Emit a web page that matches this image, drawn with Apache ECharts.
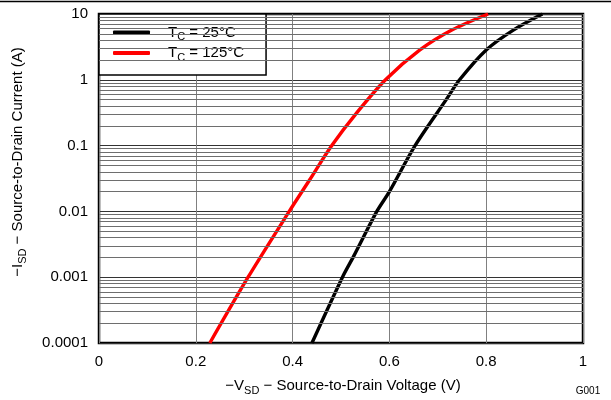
<!DOCTYPE html>
<html>
<head>
<meta charset="utf-8">
<script src="https://cdn.jsdelivr.net/npm/echarts@6/dist/echarts.min.js"></script>
<style>
  html, body { margin: 0; padding: 0; background: #fff; }
  #chart { width: 611px; height: 400px; }
</style>
</head>
<body>
<div id="chart"></div>
<script>
// diode curves, [-VSD (V), -ISD (A)]
const tc25 = [
  [0.44, 0.0001], [0.503, 0.001], [0.526, 0.00207], [0.574, 0.01],
  [0.6, 0.02], [0.653, 0.1], [0.717, 0.495], [0.745, 1],
  [0.8, 2.84], [0.856, 5.7], [0.916, 10],
];
const tc125 = [
  [0.229, 0.0001], [0.308, 0.001], [0.393, 0.01], [0.435, 0.03],
  [0.481, 0.1], [0.532, 0.311], [0.592, 1], [0.663, 2.84],
  [0.729, 5.7], [0.804, 10],
];
const seriesNames = ["25", "125"];
const yTickLabels = ["0.0001", "0.001", "0.01", "0.1", "1", "10"];

// minor log gridlines 2..9 per decade
const minorValues = [];
for (let e = -4; e < 1; e++) {
  for (let m = 2; m <= 9; m++) minorValues.push(Number((m * Math.pow(10, e)).toPrecision(3)));
}

const FONT = "'Liberation Sans', Arial, sans-serif";
const subRich = {
  t: { fontSize: 15, lineHeight: 20, fontFamily: FONT, color: "#000" },
  s: { fontSize: 11, lineHeight: 11, verticalAlign: "bottom", fontFamily: FONT, color: "#000" },
};

const chart = echarts.init(document.getElementById("chart"));

const option = {
  animation: false,
  backgroundColor: "#fff",
  grid: {
    left: 99,
    right: 28,
    top: 14,
    bottom: 57,
    show: true,
    borderColor: "#000",
    borderWidth: 2.5,
  },
  legend: {
    orient: "vertical",
    left: 99,
    top: 14,
    data: [
      { name: seriesNames[0], icon: "roundRect" },
      { name: seriesNames[1], icon: "roundRect" },
    ],
    itemWidth: 37,
    itemHeight: 4,
    itemGap: 3,
    padding: [11, 22, 12, 14],
    backgroundColor: "#fff",
    borderColor: "#000",
    borderWidth: 1.5,
    borderRadius: 0,
    formatter: function (name) {
      return "{p|T}{s|C}{t| = " + name + "°C}";
    },
    textStyle: {
      rich: {
        p: { fontSize: 15, lineHeight: 20, fontFamily: FONT, color: "#000", padding: [0, 0, 0, 13] },
        t: subRich.t,
        s: subRich.s,
      },
    },
  },
  xAxis: {
    type: "value",
    min: 0,
    max: 1,
    interval: 0.2,
    axisLine: { show: false },
    axisTick: { show: false },
    axisLabel: { color: "#000", fontSize: 15, fontFamily: FONT, margin: 11 },
    splitLine: { lineStyle: { color: "#808080", width: 1 } },
  },
  yAxis: {
    type: "log",
    logBase: 10,
    min: 0.0001,
    max: 10,
    axisLine: { show: false },
    axisTick: { show: false },
    axisLabel: {
      color: "#000",
      fontSize: 15,
      fontFamily: FONT,
      margin: 11,
      formatter: function (v) {
        return yTickLabels[Math.round(Math.log10(v)) + 4];
      },
    },
    splitLine: { lineStyle: { color: "#333", width: 1 } },
  },
  series: [
    {
      name: "minor",
      type: "line",
      data: [],
      silent: true,
      markLine: {
        silent: true,
        symbol: "none",
        precision: 10,
        label: { show: false },
        lineStyle: { color: "#6e6e6e", width: 1, type: "solid" },
        data: minorValues.map((v) => ({ yAxis: v })),
        animation: false,
      },
    },
    {
      name: seriesNames[0],
      type: "line",
      data: tc25,
      smooth: 0.3,
      showSymbol: false,
      color: "#000",
      lineStyle: { width: 3.4, color: "#000" },
    },
    {
      name: seriesNames[1],
      type: "line",
      data: tc125,
      smooth: 0.3,
      showSymbol: false,
      color: "#ff0000",
      lineStyle: { width: 3.4, color: "#ff0000" },
    },
  ],
  graphic: [
    {
      type: "line",
      shape: { x1: 0, y1: 1.5, x2: 611, y2: 1.5 },
      style: { stroke: "#000", lineWidth: 1.5 },
    },
    {
      type: "text",
      x: 18,
      y: 162,
      rotation: Math.PI / 2,
      style: {
        text: "{t|−I}{s|SD}{t| − Source-to-Drain Current (A)}",
        rich: subRich,
        align: "center",
        verticalAlign: "middle",
      },
    },
    {
      type: "text",
      x: 343,
      y: 386,
      style: {
        text: "{t|−V}{s|SD}{t| − Source-to-Drain Voltage (V)}",
        rich: subRich,
        align: "center",
        verticalAlign: "middle",
      },
    },
    {
      type: "text",
      x: 588,
      y: 391,
      style: {
        text: "G001",
        fontSize: 10,
        fontFamily: FONT,
        fill: "#000",
        align: "center",
        verticalAlign: "middle",
      },
    },
  ],
};

chart.setOption(option);
</script>
</body>
</html>
